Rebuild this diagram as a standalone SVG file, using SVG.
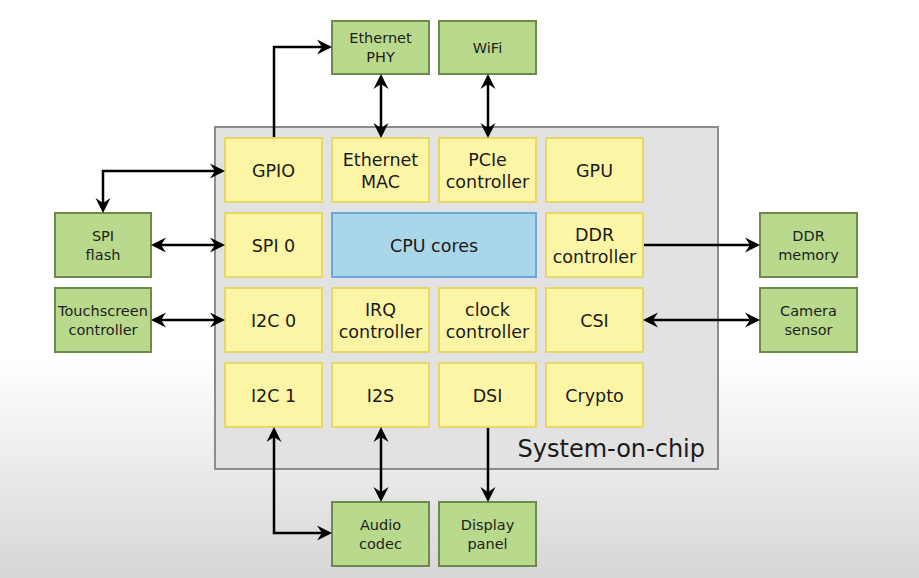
<svg xmlns="http://www.w3.org/2000/svg" width="919" height="578" viewBox="0 0 919 578">
<defs>
<linearGradient id="bg" x1="0" y1="0" x2="0" y2="1">
<stop offset="0" stop-color="#ffffff"/>
<stop offset="0.62" stop-color="#ffffff"/>
<stop offset="1" stop-color="#d6d6d6"/>
</linearGradient>
<marker id="arr" viewBox="-16 -9 18 18" markerWidth="18" markerHeight="18" refX="-3" refY="0" markerUnits="userSpaceOnUse" orient="auto-start-reverse">
<path d="M0,0 L-15,-7.5 L-10,0 L-15,7.5 Z" fill="#000"/>
</marker>
<style>
.soc{fill:#e2e2e2;stroke:#8c8c8c;stroke-width:2}
.blk{fill:#fdf5a6;stroke:#e6d766;stroke-width:2}
.cpu{fill:#a9d6e8;stroke:#6aa8e0;stroke-width:2}
.ext{fill:#b9d98c;stroke:#6b8a4c;stroke-width:2}
.t{font-family:"DejaVu Sans",Verdana,sans-serif;font-size:17.5px;fill:#1a1a1a;text-anchor:middle}
.s{font-family:"DejaVu Sans",Verdana,sans-serif;font-size:14.5px;fill:#1e1e1e;text-anchor:middle}
.big{font-family:"DejaVu Sans",Verdana,sans-serif;font-size:24px;fill:#1a1a1a;text-anchor:end}
.c{fill:none;stroke:#000;stroke-width:2.5}
.bi{marker-start:url(#arr);marker-end:url(#arr)}
.one{marker-end:url(#arr)}
</style>
</defs>
<rect width="919" height="578" fill="url(#bg)"/>

<g id="soc">
<rect class="soc" x="215" y="127" width="503" height="342"/>
<text class="big" x="705" y="457">System-on-chip</text>
</g>

<g id="gpio"><rect class="blk" x="225" y="138" width="97" height="64"/><text class="t" x="273.5" y="176.5">GPIO</text></g>
<g id="eth-mac"><rect class="blk" x="332" y="138" width="97" height="64"/><text class="t" x="380.5" y="165.5">Ethernet</text><text class="t" x="380.5" y="187.5">MAC</text></g>
<g id="pcie"><rect class="blk" x="439" y="138" width="97" height="64"/><text class="t" x="487.5" y="165.5">PCIe</text><text class="t" x="487.5" y="187.5">controller</text></g>
<g id="gpu"><rect class="blk" x="546" y="138" width="97" height="64"/><text class="t" x="594.5" y="176.5">GPU</text></g>

<g id="spi0"><rect class="blk" x="225" y="213" width="97" height="64"/><text class="t" x="273.5" y="251.5">SPI 0</text></g>
<g id="cpu"><rect class="cpu" x="332" y="213" width="204" height="64"/><text class="t" x="434" y="251.5">CPU cores</text></g>
<g id="ddr-ctrl"><rect class="blk" x="546" y="213" width="97" height="64"/><text class="t" x="594.5" y="240.5">DDR</text><text class="t" x="594.5" y="262.5">controller</text></g>

<g id="i2c0"><rect class="blk" x="225" y="288" width="97" height="64"/><text class="t" x="273.5" y="326.5">I2C 0</text></g>
<g id="irq"><rect class="blk" x="332" y="288" width="97" height="64"/><text class="t" x="380.5" y="315.5">IRQ</text><text class="t" x="380.5" y="337.5">controller</text></g>
<g id="clock"><rect class="blk" x="439" y="288" width="97" height="64"/><text class="t" x="487.5" y="315.5">clock</text><text class="t" x="487.5" y="337.5">controller</text></g>
<g id="csi"><rect class="blk" x="546" y="288" width="97" height="64"/><text class="t" x="594.5" y="326.5">CSI</text></g>

<g id="i2c1"><rect class="blk" x="225" y="363" width="97" height="64"/><text class="t" x="273.5" y="401.5">I2C 1</text></g>
<g id="i2s"><rect class="blk" x="332" y="363" width="97" height="64"/><text class="t" x="380.5" y="401.5">I2S</text></g>
<g id="dsi"><rect class="blk" x="439" y="363" width="97" height="64"/><text class="t" x="487.5" y="401.5">DSI</text></g>
<g id="crypto"><rect class="blk" x="546" y="363" width="97" height="64"/><text class="t" x="594.5" y="401.5">Crypto</text></g>

<g id="eth-phy"><rect class="ext" x="332" y="21" width="97" height="53"/><text class="s" x="380.5" y="43">Ethernet</text><text class="s" x="380.5" y="62">PHY</text></g>
<g id="wifi"><rect class="ext" x="439" y="21" width="97" height="53"/><text class="s" x="487.5" y="52.5">WiFi</text></g>
<g id="spi-flash"><rect class="ext" x="55" y="213" width="96" height="64"/><text class="s" x="103" y="240.5">SPI</text><text class="s" x="103" y="259.5">flash</text></g>
<g id="touch"><rect class="ext" x="55" y="288" width="96" height="64"/><text class="s" x="103" y="315.5">Touchscreen</text><text class="s" x="103" y="334.5">controller</text></g>
<g id="ddr-mem"><rect class="ext" x="760" y="213" width="97" height="64"/><text class="s" x="808.5" y="240.5">DDR</text><text class="s" x="808.5" y="259.5">memory</text></g>
<g id="camera"><rect class="ext" x="760" y="288" width="97" height="64"/><text class="s" x="808.5" y="315.5">Camera</text><text class="s" x="808.5" y="334.5">sensor</text></g>
<g id="audio"><rect class="ext" x="332" y="502" width="97" height="64"/><text class="s" x="380.5" y="529.5">Audio</text><text class="s" x="380.5" y="548.5">codec</text></g>
<g id="display"><rect class="ext" x="439" y="502" width="97" height="64"/><text class="s" x="487.5" y="529.5">Display</text><text class="s" x="487.5" y="548.5">panel</text></g>

<g id="connectors">
<path class="c one" d="M274,137 V47 H329"/>
<path class="c bi" d="M381,77 V135"/>
<path class="c bi" d="M488,77 V135"/>
<path class="c bi" d="M103,210 V171 H222"/>
<path class="c bi" d="M154,245 H222"/>
<path class="c bi" d="M154,320 H222"/>
<path class="c one" d="M644,245 H757"/>
<path class="c bi" d="M646,320 H757"/>
<path class="c bi" d="M274,430 V533 H329"/>
<path class="c bi" d="M381,430 V499"/>
<path class="c one" d="M488,428 V499"/>
</g>
</svg>
